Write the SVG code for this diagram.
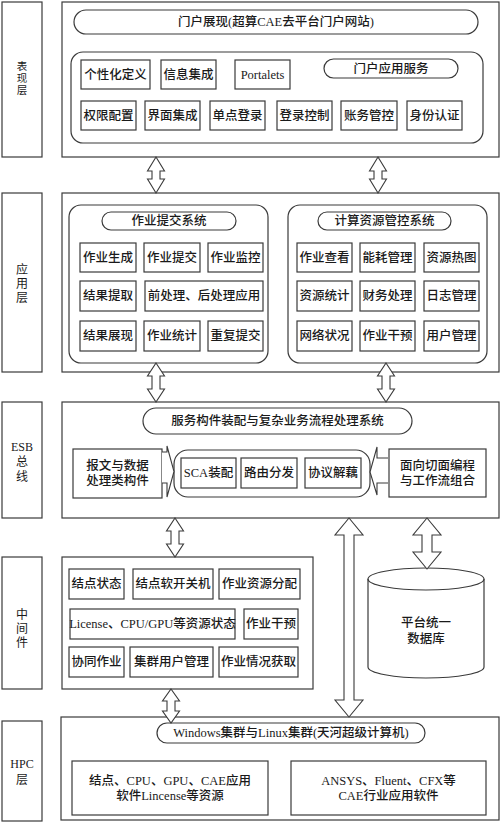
<svg xmlns="http://www.w3.org/2000/svg" width="500" height="823" viewBox="0 0 500 823">
<style>
  rect, path, polygon, ellipse { fill: #fff; stroke: #3a3a3a; stroke-width: 1.2; }
  .open { fill: none; }
  text { font-family: "Liberation Serif", "Noto Sans CJK SC", serif; fill: #1a1a1a; text-anchor: middle; dominant-baseline: central; }
  .t { font-size: 12.5px; font-weight: 500; }
  .lbl { font-size: 12px; }
  .arrow { fill: #fff; stroke: #3a3a3a; stroke-width: 1.1; }
</style>
<rect x="0" y="0" width="500" height="823" style="fill:#fff;stroke:none"/>

<!-- layer labels -->
<g id="label-presentation"><rect x="2" y="2" width="40" height="155"/><text class="lbl" style="font-size:10.5px"><tspan x="22" y="66">表</tspan><tspan x="22" y="78">现</tspan><tspan x="22" y="90">层</tspan></text></g>
<g id="label-application"><rect x="2" y="193" width="40" height="179"/><text class="lbl"><tspan x="22" y="270">应</tspan><tspan x="22" y="284">用</tspan><tspan x="22" y="298">层</tspan></text></g>
<g id="label-esb"><rect x="2" y="402" width="40" height="116"/><text class="lbl"><tspan x="22" y="447">ESB</tspan><tspan x="22" y="462">总</tspan><tspan x="22" y="477">线</tspan></text></g>
<g id="label-middleware"><rect x="2" y="557" width="40" height="132"/><text class="lbl"><tspan x="22" y="615">中</tspan><tspan x="22" y="629">间</tspan><tspan x="22" y="643">件</tspan></text></g>
<g id="label-hpc"><rect x="2" y="721" width="40" height="100"/><text class="lbl"><tspan x="22" y="764">HPC</tspan><tspan x="22" y="780">层</tspan></text></g>

<!-- presentation layer -->
<g id="presentation">
  <rect x="62" y="2" width="437" height="155"/>
  <g id="portal"><rect x="74" y="10" width="404" height="24" rx="12"/><text class="t" x="276" y="22">门户展现(超算CAE去平台门户网站)</text></g>
  <rect x="71" y="52" width="412" height="91" rx="12"/>
  <g id="p1"><rect x="81" y="60" width="69" height="29"/><text class="t" x="115.5" y="74.5">个性化定义</text></g>
  <g id="p2"><rect x="161" y="60" width="55" height="29"/><text class="t" x="188.5" y="74.5">信息集成</text></g>
  <g id="p3"><rect x="235" y="60" width="55" height="29"/><text class="t" x="262.5" y="74.5">Portalets</text></g>
  <g id="p4"><rect x="324" y="59" width="134" height="19" rx="9.5"/><text class="t" x="391" y="68.5">门户应用服务</text></g>
  <g id="p5"><rect x="81" y="101" width="55" height="29"/><text class="t" x="108.5" y="115.5">权限配置</text></g>
  <g id="p6"><rect x="145" y="101" width="55" height="29"/><text class="t" x="172.5" y="115.5">界面集成</text></g>
  <g id="p7"><rect x="210" y="101" width="55" height="29"/><text class="t" x="237.5" y="115.5">单点登录</text></g>
  <g id="p8"><rect x="277" y="101" width="55" height="29"/><text class="t" x="304.5" y="115.5">登录控制</text></g>
  <g id="p9"><rect x="341" y="101" width="56" height="29"/><text class="t" x="369" y="115.5">账务管控</text></g>
  <g id="p10"><rect x="407" y="101" width="55" height="29"/><text class="t" x="434.5" y="115.5">身份认证</text></g>
</g>

<!-- application layer -->
<g id="application">
  <rect x="62" y="193" width="437" height="179"/>
  <rect x="69" y="205" width="199" height="158" rx="12"/>
  <g id="jobsys"><rect x="102" y="212" width="134" height="18" rx="9"/><text class="t" x="169" y="221">作业提交系统</text></g>
  <g id="a1"><rect x="80" y="243" width="56" height="29"/><text class="t" x="108" y="257.5">作业生成</text></g>
  <g id="a2"><rect x="144" y="243" width="56" height="29"/><text class="t" x="172" y="257.5">作业提交</text></g>
  <g id="a3"><rect x="208" y="243" width="55" height="29"/><text class="t" x="235.5" y="257.5">作业监控</text></g>
  <g id="a4"><rect x="80" y="281" width="56" height="30"/><text class="t" x="108" y="296">结果提取</text></g>
  <g id="a5"><rect x="145" y="281" width="118" height="30"/><text class="t" x="204" y="296">前处理、后处理应用</text></g>
  <g id="a6"><rect x="80" y="321" width="56" height="30"/><text class="t" x="108" y="336">结果展现</text></g>
  <g id="a7"><rect x="144" y="321" width="56" height="30"/><text class="t" x="172" y="336">作业统计</text></g>
  <g id="a8"><rect x="208" y="321" width="55" height="30"/><text class="t" x="235.5" y="336">重复提交</text></g>

  <rect x="288" y="205" width="199" height="158" rx="12"/>
  <g id="ressys"><rect x="318" y="212" width="133" height="18" rx="9"/><text class="t" x="384.5" y="221">计算资源管控系统</text></g>
  <g id="r1"><rect x="297" y="243" width="55" height="29"/><text class="t" x="324.5" y="257.5">作业查看</text></g>
  <g id="r2"><rect x="360" y="243" width="55" height="29"/><text class="t" x="387.5" y="257.5">能耗管理</text></g>
  <g id="r3"><rect x="424" y="243" width="55" height="29"/><text class="t" x="451.5" y="257.5">资源热图</text></g>
  <g id="r4"><rect x="297" y="281" width="55" height="30"/><text class="t" x="324.5" y="296">资源统计</text></g>
  <g id="r5"><rect x="360" y="281" width="55" height="30"/><text class="t" x="387.5" y="296">财务处理</text></g>
  <g id="r6"><rect x="424" y="281" width="55" height="30"/><text class="t" x="451.5" y="296">日志管理</text></g>
  <g id="r7"><rect x="297" y="321" width="55" height="30"/><text class="t" x="324.5" y="336">网络状况</text></g>
  <g id="r8"><rect x="360" y="321" width="55" height="30"/><text class="t" x="387.5" y="336">作业干预</text></g>
  <g id="r9"><rect x="424" y="321" width="55" height="30"/><text class="t" x="451.5" y="336">用户管理</text></g>
</g>

<!-- ESB -->
<g id="esb">
  <rect x="62" y="402" width="437" height="116"/>
  <g id="svc"><rect x="143" y="408" width="269" height="26" rx="13"/><text class="t" x="277.5" y="421">服务构件装配与复杂业务流程处理系统</text></g>
  <g id="msg"><rect x="73" y="449" width="89" height="49"/><text class="t"><tspan x="117.5" y="466">报文与数据</tspan><tspan x="117.5" y="481">处理类构件</tspan></text></g>
  <rect x="174" y="450" width="196" height="47" rx="14"/>
  <g id="sca"><rect x="181" y="458" width="55" height="30"/><text class="t" x="208.5" y="473">SCA装配</text></g>
  <g id="route"><rect x="241" y="458" width="56" height="30"/><text class="t" x="269" y="473">路由分发</text></g>
  <g id="proto"><rect x="305" y="458" width="56" height="30"/><text class="t" x="333" y="473">协议解藕</text></g>
  <g id="aop"><rect x="389" y="449" width="97" height="48"/><text class="t"><tspan x="437.5" y="466">面向切面编程</tspan><tspan x="437.5" y="481">与工作流组合</tspan></text></g>
</g>

<!-- middleware -->
<g id="middleware">
  <rect x="62" y="557" width="251" height="132"/>
  <g id="m1"><rect x="69" y="569" width="55" height="30"/><text class="t" x="96.5" y="584">结点状态</text></g>
  <g id="m2"><rect x="133" y="569" width="80" height="30"/><text class="t" x="173" y="584">结点软开关机</text></g>
  <g id="m3"><rect x="219" y="569" width="81" height="30"/><text class="t" x="259.5" y="584">作业资源分配</text></g>
  <g id="m4"><rect x="70" y="609" width="165" height="30"/><text class="t" x="152.5" y="624">License、CPU/GPU等资源状态</text></g>
  <g id="m5"><rect x="244" y="609" width="54" height="30"/><text class="t" x="271" y="624">作业干预</text></g>
  <g id="m6"><rect x="69" y="647" width="55" height="30"/><text class="t" x="96.5" y="662">协同作业</text></g>
  <g id="m7"><rect x="130" y="647" width="83" height="30"/><text class="t" x="171.5" y="662">集群用户管理</text></g>
  <g id="m8"><rect x="219" y="647" width="79" height="30"/><text class="t" x="258.5" y="662">作业情况获取</text></g>
</g>

<!-- database -->
<g id="database">
  <path d="M368,579 A58,11 0 0,1 484,579 L484,667 A58,11 0 0,1 368,667 Z"/>
  <path class="open" d="M368,579 A58,11 0 0,0 484,579"/>
  <text class="t"><tspan x="426" y="623">平台统一</tspan><tspan x="426" y="639">数据库</tspan></text>
</g>

<!-- HPC -->
<g id="hpc">
  <rect x="61" y="717" width="438" height="103"/>
  <g id="cluster"><rect x="157" y="723" width="268" height="20" rx="10"/><text class="t" x="291" y="733">Windows集群与Linux集群(天河超级计算机)</text></g>
  <g id="res"><rect x="72" y="761" width="196" height="54"/><text class="t"><tspan x="170" y="781">结点、CPU、GPU、CAE应用</tspan><tspan x="170" y="796">软件Lincense等资源</tspan></text></g>
  <g id="cae"><rect x="291" y="761" width="195" height="54"/><text class="t"><tspan x="388.5" y="781">ANSYS、Fluent、CFX等</tspan><tspan x="388.5" y="796">CAE行业应用软件</tspan></text></g>
</g>

<!-- connectors -->
<g id="connectors">
  <polygon class="arrow" points="156,157 164.5,171 160,171 160,179 164.5,179 156,193 147.5,179 152,179 152,171 147.5,171"/>
  <polygon class="arrow" points="378,157 386.5,171 382,171 382,179 386.5,179 378,193 369.5,179 374,179 374,171 369.5,171"/>
  <polygon class="arrow" points="156,363 164.5,376 160,376 160,389 164.5,389 156,402 147.5,389 152,389 152,376 147.5,376"/>
  <polygon class="arrow" points="386,363 394.5,376 390,376 390,389 394.5,389 386,402 377.5,389 382,389 382,376 377.5,376"/>
  <polygon class="arrow" points="175,518 183.5,531 179,531 179,544 183.5,544 175,557 166.5,544 171,544 171,531 166.5,531"/>
  <polygon class="arrow" points="171,689 179.5,701 175,701 175,711 179.5,711 171,723 162.5,711 167,711 167,701 162.5,701"/>
  <polygon class="arrow" points="349,518 363,535 354,535 354,700 363,700 349,717 335,700 344,700 344,535 335,535"/>
  <polygon class="arrow" points="427,518 441,535 432,535 432,552 441,552 427,569 413,552 422,552 422,535 413,535"/>
  <polyline class="arrow" points="162,452 167,452 167,446 174,471.5 167,497 167,483 162,483"/>
  <polyline class="arrow" points="388,458 377,458 377,447 370,472 377,495 377,483 388,483"/>
</g>
</svg>
